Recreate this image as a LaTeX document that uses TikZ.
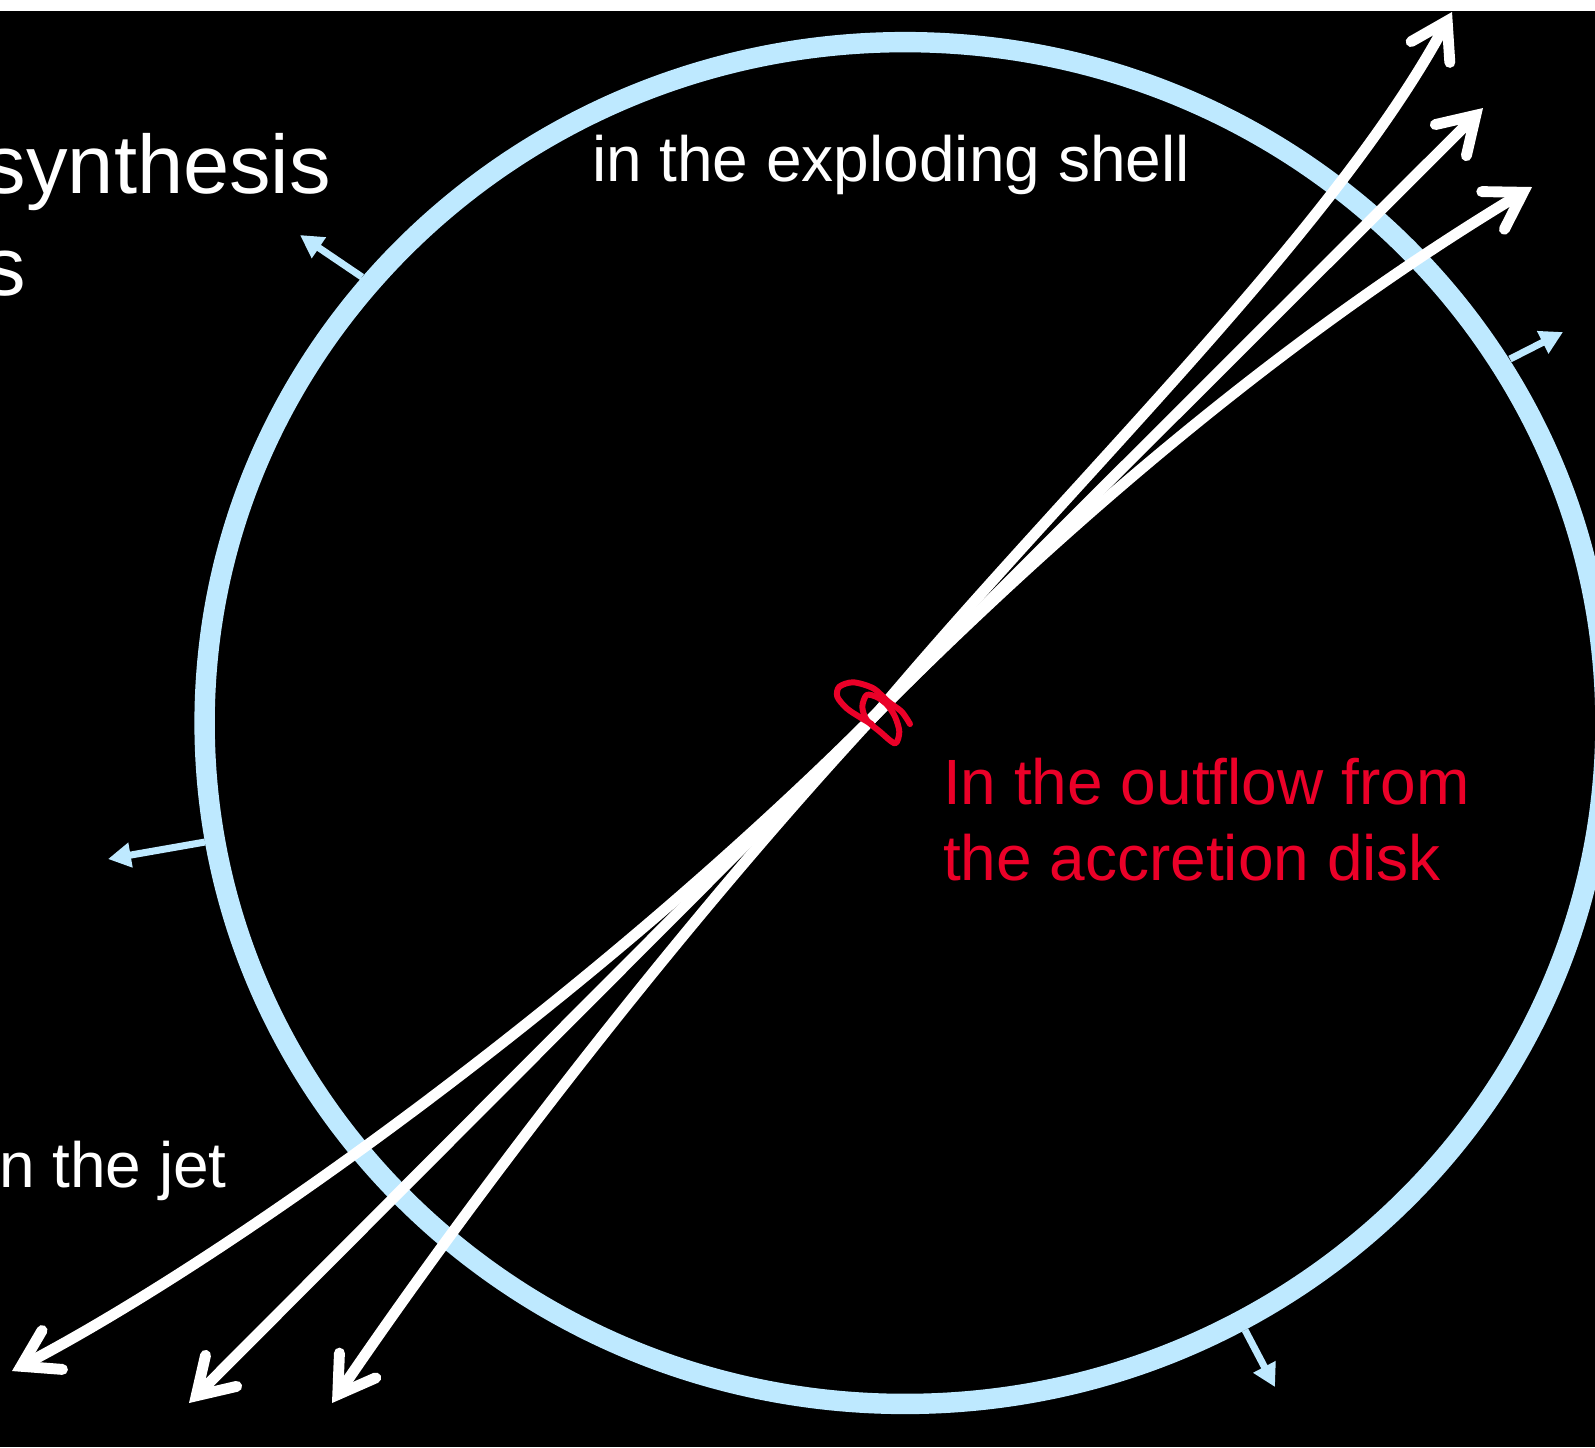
\documentclass[tikz,border=0pt]{standalone}
\usepackage{fontspec}
\setmainfont{Liberation Sans}
\usetikzlibrary{arrows.meta}
\definecolor{ringblue}{RGB}{190,233,255}
\definecolor{diskred}{RGB}{235,0,40}
\begin{document}
\begin{tikzpicture}[x=0.01cm,y=-0.01cm,
  ring/.style={draw=ringblue, line width=5.8pt},
  push/.style={draw=ringblue, line width=2pt, -{Triangle[length=6.5pt,width=6.8pt]}},
  jet/.style={draw=white, line width=3.1pt, -{Straight Barb[length=10pt,width=12.5pt,line cap=round,line join=miter]}},
  disk/.style={draw=diskred, line width=1.7pt, line cap=round, line join=round},
  lbl/.style={anchor=base west, inner sep=0pt, outer sep=0pt, text=white, font=\fontsize{18.2pt}{21.7pt}\selectfont},
  big/.style={lbl, font=\fontsize{23.6pt}{28pt}\selectfont},
  redlbl/.style={lbl, text=diskred}]
\useasboundingbox (0,0) rectangle (1595,1447);
\clip (0,0) rectangle (1595,1447);
\fill[black] (0,0) rectangle (1595,1447);
\fill[white] (0,0) rectangle (1595,11);

% exploding shell
\coordinate (O) at (905,723);
\draw[ring] (O) ellipse [x radius=7.00cm, y radius=6.805cm];

% small outward arrows on the shell
\coordinate (b1) at (362,277);   \coordinate (e1) at (300,235);
\coordinate (b2) at (1510,359);  \coordinate (e2) at (1563,332);
\coordinate (b3) at (1245,1330); \coordinate (e3) at (1275,1387);
\coordinate (b4) at (205,842);   \coordinate (e4) at (108,859);
\draw[push] (b1) -- (e1);
\draw[push] (b2) -- (e2);
\draw[push] (b3) -- (e3);
\draw[push] (b4) -- (e4);

% jets
\coordinate (C) at (878,712);
\coordinate (U1) at (1452,12);
\coordinate (U2) at (1483,108);
\coordinate (U3) at (1532,187);
\coordinate (L1) at (12,1371);
\coordinate (L2) at (189,1403);
\coordinate (L3) at (332,1403);
\draw[jet] (C) .. controls (1071,482) and (1333.5,232) .. (U1);
\draw[jet] (C) -- (U2);
\draw[jet] (C) .. controls (1055,535) and (1275,341.5) .. (U3);
\draw[jet] (C) .. controls (595,995) and (233.5,1255) .. (L1);
\draw[jet] (C) -- (L2);
\draw[jet] (C) .. controls (708,895) and (501,1155) .. (L3);

% accretion disk sketch
\draw[disk] plot[smooth] coordinates {(910,724) (901.7,711.7) (888.3,701.7) (873.3,688.3) (853.3,682.3) (839.3,686.7) (837.3,696.7) (846.7,708.3) (861.7,718.3) (871.7,724)};
\draw[disk] plot[smooth cycle] coordinates {(866.7,695) (862.3,706.7) (866.7,720) (880,731.7) (895,743.3) (899.3,731.7) (895,716.7) (887.3,705) (877.3,697.3)};

% texts
\node[big] (t1) at (-15,193) {synthesis};
\node[big] (t2) at (-15,295) {s};
\node[lbl] (t3) at (592,181) {in the exploding shell};
\node[lbl] (t4) at (-1,1187) {n the jet};
\node[redlbl] (t5) at (943,804) {In the outflow from};
\node[redlbl] (t6) at (943,880) {the accretion disk};
\end{tikzpicture}
\end{document}
